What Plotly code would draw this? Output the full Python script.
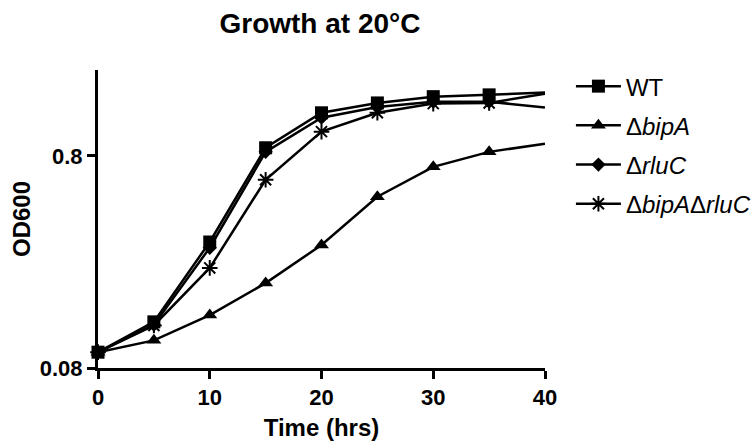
import plotly.graph_objects as go

time_hrs = [0, 5, 10, 15, 20, 25, 30, 35, 40]
wt = [0.095, 0.132, 0.314, 0.873, 1.276, 1.42, 1.52, 1.55, 1.59]
bipA = [0.095, 0.108, 0.142, 0.201, 0.304, 0.513, 0.710, 0.835, 0.912]
rluC = [0.095, 0.128, 0.295, 0.835, 1.21, 1.36, 1.44, 1.44, 1.35]
bipA_rluC = [0.095, 0.127, 0.237, 0.617, 1.04, 1.276, 1.41, 1.42, 1.57]

series_names = ["WT", "Δ<i>bipA</i>", "Δ<i>rluC</i>", "Δ<i>bipA</i>Δ<i>rluC</i>"]
series_values = [wt, bipA, rluC, bipA_rluC]
symbols = ["square", "triangle-up", "diamond", "asterisk"]
sizes = [13, 13, 11, 13]

y_tick_vals = [0.08, 0.8]
y_tick_text = ["0.08", "0.8"]
x_tick_vals = [0, 10, 20, 30, 40]

FONT = "Liberation Sans, Arial, sans-serif"

fig = go.Figure()
for i, (name, vals, sym, sz) in enumerate(zip(series_names, series_values, symbols, sizes)):
    marker = dict(symbol=sym, size=sz, color="black")
    if sym == "asterisk":
        marker["line"] = dict(color="black", width=2)
    grp = "g%d" % i
    fig.add_trace(go.Scatter(
        x=time_hrs[:-1], y=vals[:-1], mode="lines+markers", name=name,
        legendgroup=grp,
        line=dict(color="black", width=2.5), marker=marker, cliponaxis=False,
    ))
    fig.add_trace(go.Scatter(
        x=time_hrs[-2:], y=vals[-2:], mode="lines", showlegend=False,
        legendgroup=grp,
        line=dict(color="black", width=2.5), cliponaxis=False, hoverinfo="skip",
    ))

fig.update_layout(
    width=754, height=441,
    margin=dict(l=98, r=209, t=70, b=73, autoexpand=False),
    plot_bgcolor="white", paper_bgcolor="white",
    font=dict(family=FONT, color="black"),
    title=dict(text="<b>Growth at 20°C</b>", x=320 / 754, xanchor="center",
               y=1 - 23 / 441, yanchor="middle", font=dict(size=28, family=FONT)),
    legend=dict(x=1.058, xanchor="left", y=1.02, yanchor="top",
                font=dict(size=24, family=FONT), bgcolor="rgba(0,0,0,0)",
                itemwidth=45, traceorder="grouped", tracegroupgap=5),
    showlegend=True,
)
fig.update_xaxes(
    range=[0, 40], tickvals=x_tick_vals, ticktext=["<b>%d</b>" % v for v in x_tick_vals],
    showgrid=False, zeroline=False, automargin=False,
    showline=True, linecolor="black", linewidth=3,
    ticks="outside", ticklen=8, tickwidth=3, tickcolor="black",
    tickfont=dict(size=22, family=FONT),
    title=dict(text="<b>Time (hrs)</b>", font=dict(size=24, family=FONT), standoff=11),
)
fig.update_yaxes(
    type="log", range=[-1.0969, 0.3075], tickvals=y_tick_vals,
    ticktext=["<b>%s</b>" % t for t in y_tick_text],
    showgrid=False, zeroline=False, automargin=False,
    showline=True, linecolor="black", linewidth=3,
    ticks="outside", ticklen=8, tickwidth=3, tickcolor="black",
    tickfont=dict(size=22, family=FONT),
    title=dict(text="<b>OD600</b>", font=dict(size=24, family=FONT), standoff=3),
)

fig.write_html("out.html")
